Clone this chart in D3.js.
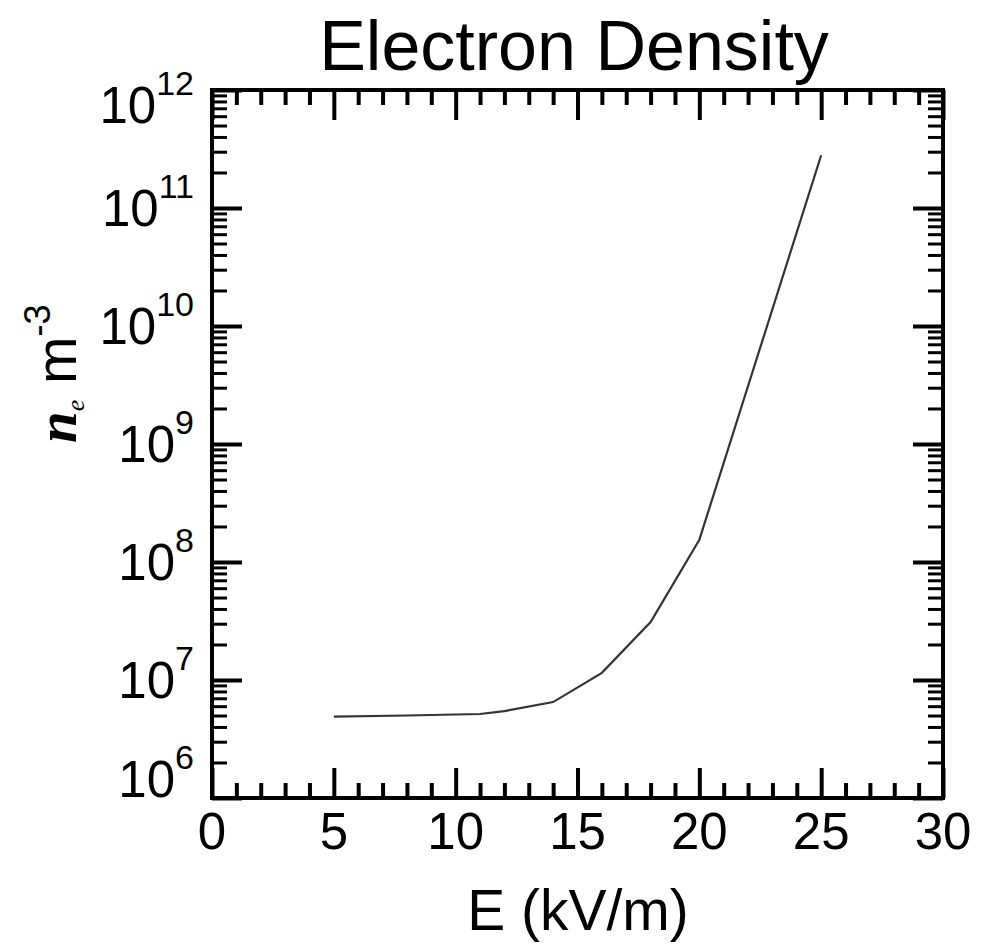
<!DOCTYPE html>
<html>
<head>
    <meta charset="utf-8">
    <title>Electron Density</title>
    <script src="https://cdnjs.cloudflare.com/ajax/libs/d3/7.8.5/d3.min.js"></script>
    <style>
        body, html {
            margin: 0;
            padding: 0;
            background: #fff;
        }
        svg text {
            font-family: "Liberation Sans", Arial, sans-serif;
            fill: #000;
        }
    </style>
</head>
<body>
<div id="chart"></div>
<script>
    // values
    var fieldKV = [5, 8, 11, 12, 14, 16, 18, 20, 25];
    var density = [4.9e6, 5.0e6, 5.15e6, 5.45e6, 6.5e6, 1.15e7, 3.1e7, 1.54e8, 2.8e11];
    var xTicks = [0, 5, 10, 15, 20, 25, 30];
    var yExponents = [6, 7, 8, 9, 10, 11, 12];

    var width = 996, height = 944;
    var pLeft = 212, pRight = 943, pTop = 90, pBottom = 798;

    var svg = d3.select('#chart').append('svg')
        .attr('width', width)
        .attr('height', height);

    var x = d3.scaleLinear().domain([0, 30]).range([pLeft, pRight]);
    var y = d3.scaleLog().domain([1e6, 1e12]).range([pBottom, pTop]);

    // minor ticks
    var xMinor = d3.range(0, 31, 1).filter(function (d) { return d % 5 !== 0; });
    var yMinor = [];
    yExponents.slice(0, -1).forEach(function (e) {
        for (var k = 2; k <= 9; k++) yMinor.push(k * Math.pow(10, e));
    });
    var yMajor = yExponents.map(function (e) { return Math.pow(10, e); });

    function tickStyle(w) {
        return function (g) {
            g.select('.domain').remove();
            g.selectAll('.tick line').attr('stroke', '#000').attr('stroke-width', w);
            g.selectAll('.tick text').remove();
        };
    }

    // bottom / top
    svg.append('g').attr('transform', 'translate(0,' + pBottom + ')')
        .call(d3.axisBottom(x).tickValues(xTicks).tickSize(-30)).call(tickStyle(4));
    svg.append('g').attr('transform', 'translate(0,' + pBottom + ')')
        .call(d3.axisBottom(x).tickValues(xMinor).tickSize(-15)).call(tickStyle(4));
    svg.append('g').attr('transform', 'translate(0,' + pTop + ')')
        .call(d3.axisTop(x).tickValues(xTicks).tickSize(-30)).call(tickStyle(4));
    svg.append('g').attr('transform', 'translate(0,' + pTop + ')')
        .call(d3.axisTop(x).tickValues(xMinor).tickSize(-15)).call(tickStyle(4));

    // left / right
    svg.append('g').attr('transform', 'translate(' + pLeft + ',0)')
        .call(d3.axisLeft(y).tickValues(yMajor).tickSize(-30)).call(tickStyle(4));
    svg.append('g').attr('transform', 'translate(' + pLeft + ',0)')
        .call(d3.axisLeft(y).tickValues(yMinor).tickSize(-15)).call(tickStyle(3));
    svg.append('g').attr('transform', 'translate(' + pRight + ',0)')
        .call(d3.axisRight(y).tickValues(yMajor).tickSize(-30)).call(tickStyle(4));
    svg.append('g').attr('transform', 'translate(' + pRight + ',0)')
        .call(d3.axisRight(y).tickValues(yMinor).tickSize(-15)).call(tickStyle(3));

    // frame
    svg.append('rect')
        .attr('x', pLeft).attr('y', pTop)
        .attr('width', pRight - pLeft).attr('height', pBottom - pTop)
        .attr('fill', 'none')
        .attr('stroke', '#000')
        .attr('stroke-width', 4);

    // x tick labels
    svg.selectAll('.xlab').data(xTicks).enter().append('text')
        .attr('class', 'xlab')
        .attr('x', function (d) { return x(d); })
        .attr('y', 849)
        .attr('text-anchor', 'middle')
        .style('font-size', '51px')
        .text(function (d) { return d; });

    // y tick labels (10^n)
    var ylab = svg.selectAll('.ylab').data(yExponents).enter().append('text')
        .attr('class', 'ylab')
        .attr('x', 194)
        .attr('y', function (d, i) {
            var yy = y(Math.pow(10, d)) + 18;
            if (i === 0) yy = pBottom - 1;
            if (i === yExponents.length - 1) yy = pTop + 33;
            return yy;
        })
        .attr('text-anchor', 'end')
        .style('font-size', '51px');
    ylab.append('tspan').text('10');
    ylab.append('tspan')
        .attr('dy', -28)
        .style('font-size', '34px')
        .text(function (d) { return d; });

    // curve
    var line = d3.line()
        .x(function (d, i) { return x(fieldKV[i]); })
        .y(function (d) { return y(d); });
    svg.append('path')
        .datum(density)
        .attr('d', line)
        .attr('fill', 'none')
        .attr('stroke', '#333')
        .attr('stroke-width', 2.2);

    // title
    svg.append('text')
        .attr('x', 574).attr('y', 70)
        .attr('text-anchor', 'middle')
        .style('font-size', '70px')
        .text('Electron Density');

    // x title
    svg.append('text')
        .attr('x', 578).attr('y', 930)
        .attr('text-anchor', 'middle')
        .style('font-size', '57px')
        .text('E (kV/m)');

    // y title
    var yt = svg.append('text')
        .attr('transform', 'translate(76,443) rotate(-90)')
        .attr('text-anchor', 'start')
        .style('font-size', '57px');
    yt.append('tspan')
        .style('font-family', '"Liberation Serif", "DejaVu Serif", serif')
        .style('font-style', 'italic')
        .style('font-weight', 'bold')
        .text('n');
    yt.append('tspan')
        .attr('dy', 8)
        .style('font-family', '"Liberation Serif", "DejaVu Serif", serif')
        .style('font-style', 'italic')
        .style('font-size', '26px')
        .text('e');
    yt.append('tspan')
        .attr('dy', -8)
        .text('  m');
    yt.append('tspan')
        .attr('dy', -26)
        .style('font-size', '36px')
        .text('-3');
</script>
</body>
</html>
